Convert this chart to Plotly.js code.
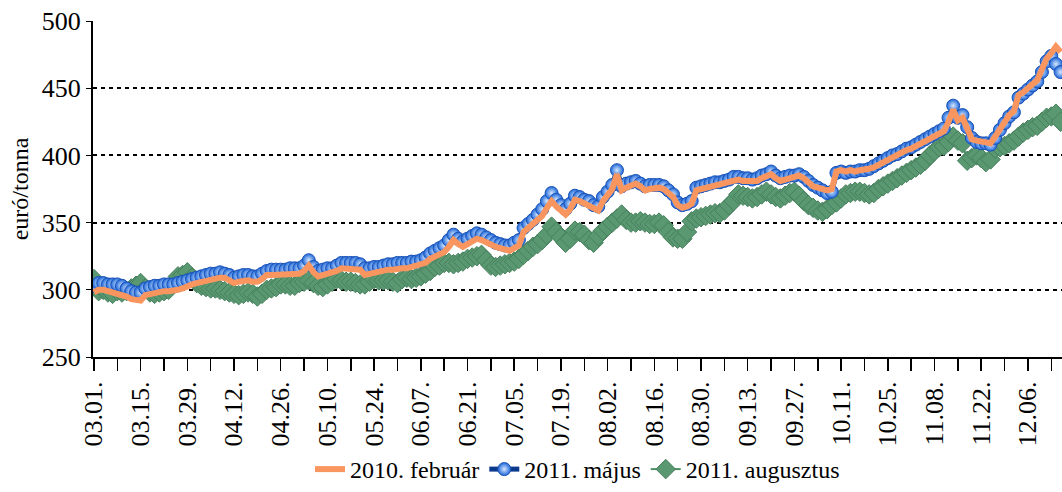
<!DOCTYPE html>
<html>
<head>
<meta charset="utf-8">
<script src="https://cdn.plot.ly/plotly-3.0.1.min.js"></script>
<style>
  html, body { margin: 0; padding: 0; background: #fff; }
  #chart { width: 1062px; height: 492px; }
</style>
</head>
<body>
<div id="chart"></div>
<script>
// napi árfolyamok, euró/tonna (munkanapok 03.01. - 12.15.)
const tickLabels = ["03.01.", "03.15.", "03.29.", "04.12.", "04.26.", "05.10.", "05.24.",
  "06.07.", "06.21.", "07.05.", "07.19.", "08.02.", "08.16.", "08.30.", "09.13.", "09.27.",
  "10.11.", "10.25.", "11.08.", "11.22.", "12.06."];

const feb2010 = [
  298, 300, 300, 299, 299, 298, 297, 295, 293, 292,
  292, 296, 297, 298, 298, 299, 299, 299, 300, 301,
  303, 304, 305, 306, 307, 308, 308, 309, 309, 307,
  305, 306, 307, 307, 306, 306, 308, 311, 311, 311,
  311, 311, 312, 312, 312, 314, 318, 313, 310, 311,
  312, 312, 314, 316, 316, 316, 316, 315, 311, 312,
  313, 313, 314, 315, 315, 316, 316, 316, 317, 317,
  318, 320, 323, 325, 327, 328, 332, 337, 334, 332,
  334, 336, 338, 337, 335, 334, 332, 331, 330, 329,
  331, 333, 343, 346, 348, 352, 355, 361, 366, 362,
  359, 356, 360, 367, 366, 364, 363, 360, 359, 366,
  370, 375, 386, 374, 376, 377, 379, 377, 374, 375,
  376, 376, 375, 372, 369, 363, 361, 362, 364, 374,
  375, 376, 377, 378, 378, 379, 380, 382, 382, 381,
  381, 380, 381, 383, 384, 386, 383, 381, 382, 383,
  384, 385, 383, 380, 377, 376, 375, 374, 375, 388,
  389, 388, 389, 388, 389, 389, 390, 391, 393, 395,
  397, 399, 400, 402, 404, 405, 407, 408, 410, 412,
  414, 416, 418, 425, 434, 426, 428, 420, 412, 411,
  410, 410, 409, 414, 420, 425, 430, 433, 445, 447,
  450, 453, 456, 464, 472, 476, 481, 477
];

const maj2011 = [
  303, 305, 305, 304, 304, 304, 303, 301, 299, 298,
  298, 301, 302, 303, 303, 304, 304, 304, 305, 306,
  307, 308, 309, 310, 311, 312, 312, 313, 312, 311,
  309, 310, 311, 311, 310, 310, 312, 314, 315, 315,
  315, 315, 316, 316, 316, 318, 322, 317, 314, 315,
  316, 316, 318, 320, 320, 320, 320, 319, 316, 316,
  317, 317, 318, 319, 319, 320, 320, 320, 321, 321,
  322, 324, 327, 329, 331, 333, 337, 341, 338, 336,
  338, 340, 342, 341, 339, 337, 335, 334, 333, 333,
  335, 337, 346, 349, 352, 356, 360, 366, 372, 367,
  363, 360, 364, 370, 369, 367, 366, 363, 362, 369,
  373, 378, 389, 377, 379, 380, 381, 379, 377, 378,
  378, 378, 377, 374, 371, 365, 363, 364, 366, 376,
  377, 378, 379, 380, 380, 381, 382, 384, 384, 383,
  383, 382, 383, 385, 386, 388, 385, 383, 384, 385,
  385, 386, 384, 381, 378, 376, 374, 372, 373, 387,
  388, 387, 388, 388, 389, 389, 390, 392, 394, 396,
  398, 400, 401, 403, 405, 406, 408, 410, 412, 414,
  416, 418, 420, 428, 437, 428, 430, 421, 413, 410,
  409, 409, 408, 413, 419, 424, 429, 432, 443, 446,
  449, 452, 455, 462, 470, 474, 468, 462
];

const aug2011 = [
  308, 299, 300, 298, 297, 299, 298, 299, 301, 303,
  305, 301, 298, 297, 298, 299, 300, 305, 310, 311,
  313, 309, 305, 303, 302, 301, 301, 300, 299, 298,
  297, 296, 297, 298, 297, 295, 297, 300, 301, 302,
  304, 304, 303, 303, 305, 306, 307, 305, 303, 302,
  304, 306, 308, 307, 306, 306, 305, 304, 304, 306,
  308, 307, 307, 307, 306, 305, 308, 309, 308, 309,
  310, 312, 314, 317, 318, 320, 320, 319, 320, 321,
  323, 324, 325, 326, 322, 318, 317, 318, 319, 320,
  321, 323, 326, 329, 332, 334, 337, 341, 347, 343,
  339, 335, 338, 344, 343, 341, 337, 335, 340, 344,
  347, 350, 353, 356, 352, 350, 350, 351, 350, 349,
  349, 350, 348, 343, 339, 338, 338, 343, 351, 353,
  354, 355, 356, 357, 357, 359, 363, 366, 371, 370,
  369, 368, 369, 371, 373, 371, 369, 368, 370, 372,
  373, 370, 366, 363, 361, 359, 358, 360, 363, 365,
  368, 371, 372, 373, 373, 372, 371, 372, 375, 377,
  379, 381, 383, 385, 387, 389, 391, 393, 396, 400,
  403, 406, 407, 410, 414, 411, 409, 396, 398, 400,
  398, 395, 397, 405, 406, 407, 409, 411, 414, 417,
  419, 421, 422, 425, 428, 429, 431, 425
];

const days = feb2010.map((_, i) => i);

// kis osztásjel 5 naponként, felirat 10 naponként
const tickVals = [];
const tickText = [];
for (let i = 0; i < days.length; i += 5) {
  tickVals.push(i);
  tickText.push(i % 10 === 0 ? (tickLabels[i / 10] || "") : "");
}

const serif = "Liberation Serif";

const traces = [
  {
    x: days, y: aug2011, type: "scatter", mode: "lines+markers",
    name: "2011. augusztus",
    line: { color: "#4f8f66", width: 2 },
    marker: { symbol: "diamond", size: 15, color: "#5a9871", line: { color: "#46805d", width: 1 } }
  },
  {
    x: days, y: maj2011, type: "scatter", mode: "lines+markers",
    name: "2011. május",
    line: { color: "#0b3a8c", width: 5 },
    marker: {
      symbol: "circle", size: 13, color: "#1f68da",
      gradient: { type: "radial", color: "#d6e8ff" },
      line: { color: "#1a52b5", width: 1 }
    }
  },
  {
    x: days, y: feb2010, type: "scatter", mode: "lines",
    name: "2010. február",
    line: { color: "#f9965f", width: 6 }
  }
];

const layout = {
  width: 1062,
  height: 492,
  margin: { l: 93, r: 0, t: 21, b: 133 },
  paper_bgcolor: "#fff",
  plot_bgcolor: "#fff",
  font: { family: serif, size: 24, color: "#000" },
  showlegend: true,
  legend: {
    orientation: "h", traceorder: "reversed",
    x: 0.5, xanchor: "center", y: -0.335, yanchor: "middle",
    font: { family: serif, size: 24, color: "#000" }
  },
  xaxis: {
    range: [-0.2, 207.3],
    tickmode: "array", tickvals: tickVals, ticktext: tickText,
    tickangle: -90,
    ticks: "outside", ticklen: 12, tickwidth: 1.5, tickcolor: "#000",
    tickfont: { family: serif, size: 26, color: "#000" },
    showgrid: false, zeroline: false,
    showline: true, linecolor: "#000", linewidth: 2
  },
  yaxis: {
    range: [250, 500], dtick: 50,
    ticks: "outside", ticklen: 5, tickcolor: "#000",
    tickfont: { family: serif, size: 26, color: "#000" },
    showgrid: true, gridcolor: "#000", gridwidth: 2, griddash: "4px,4px",
    zeroline: false,
    showline: true, linecolor: "#000", linewidth: 2,
    title: { text: "euró/tonna", font: { family: serif, size: 24, color: "#000" }, standoff: 6 }
  }
};

Plotly.newPlot("chart", traces, layout, { displayModeBar: false, staticPlot: true });
</script>
</body>
</html>
